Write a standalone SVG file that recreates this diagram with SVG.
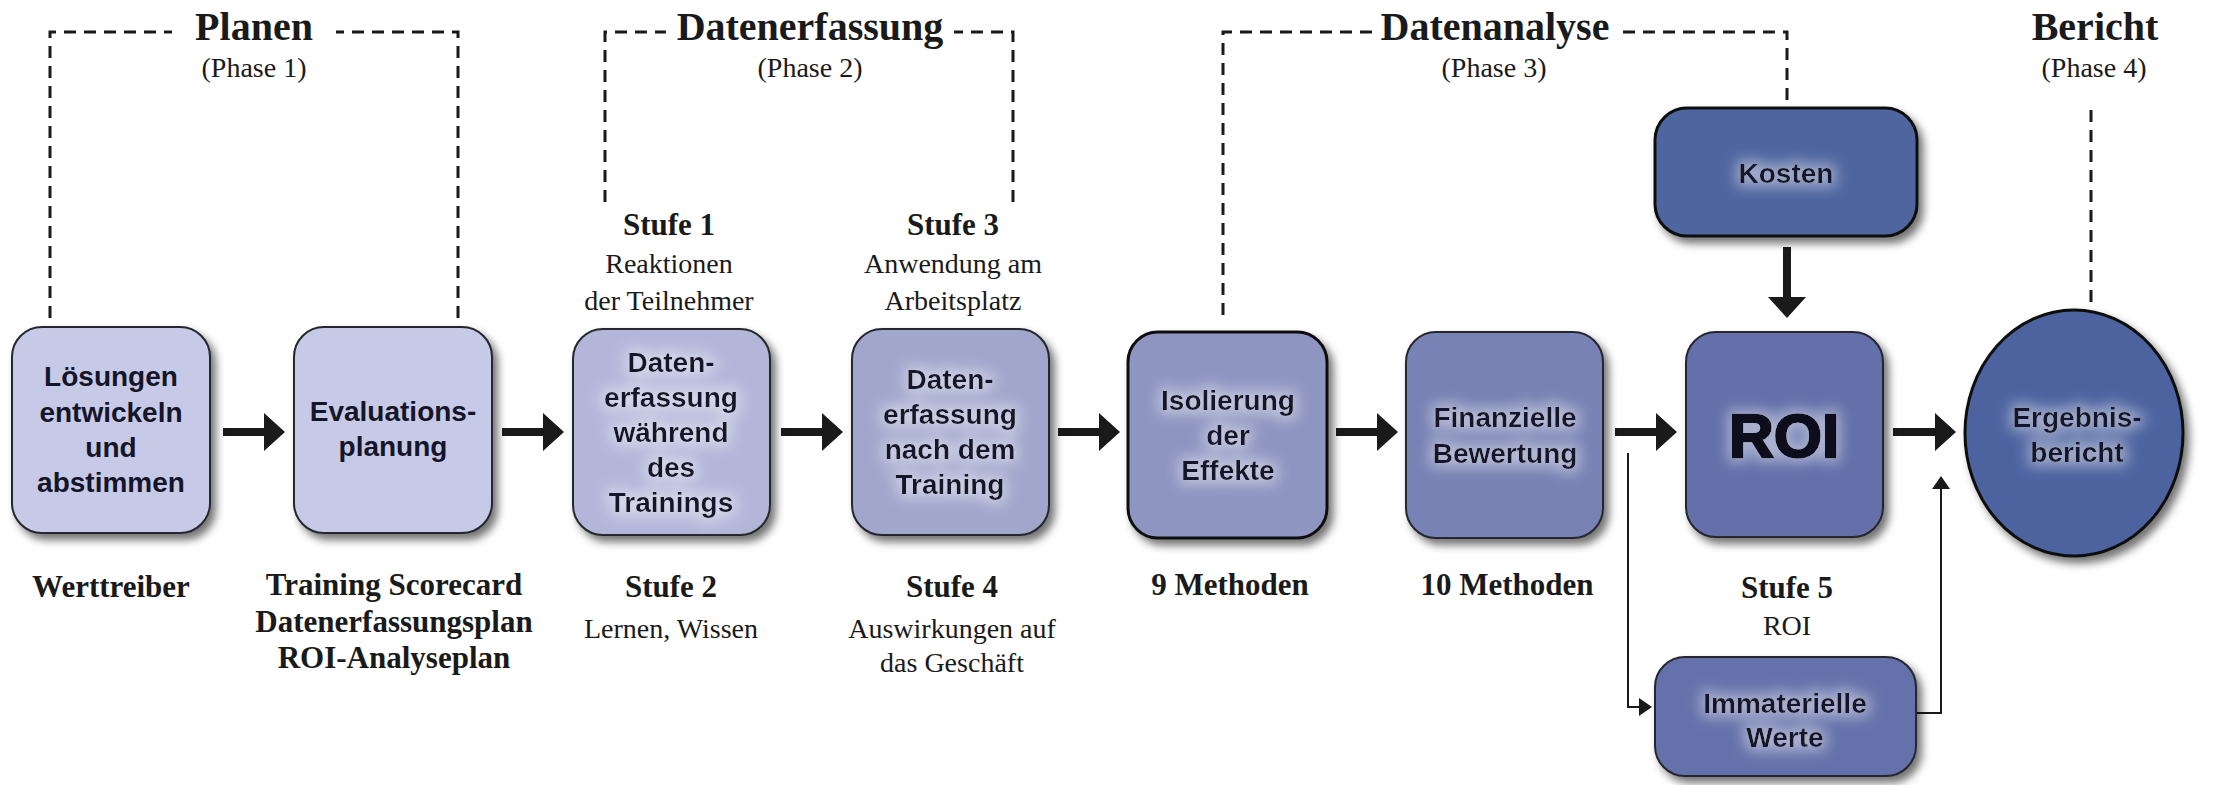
<svg xmlns="http://www.w3.org/2000/svg" width="2223" height="785" viewBox="0 0 2223 785">
<defs>
<filter id="shadow" x="-10%" y="-10%" width="130%" height="130%">
<feDropShadow dx="5" dy="6" stdDeviation="4" flood-color="#000" flood-opacity="0.55"/>
</filter>
<filter id="halo" x="-20%" y="-30%" width="140%" height="160%">
<feMorphology in="SourceAlpha" operator="dilate" radius="4" result="d"/>
<feGaussianBlur in="d" stdDeviation="7" result="b"/>
<feFlood flood-color="#ffffff" flood-opacity="0.45"/>
<feComposite in2="b" operator="in" result="g"/>
<feMerge><feMergeNode in="g"/><feMergeNode in="SourceGraphic"/></feMerge>
</filter>
<marker id="big" viewBox="0 0 21 38" refX="1" refY="19" markerWidth="21" markerHeight="38" markerUnits="userSpaceOnUse" orient="auto">
<path d="M0,0 L21,19 L0,38 Z" fill="#1a1a1a"/>
</marker>
<marker id="small" viewBox="0 0 13 18" refX="1" refY="9" markerWidth="13" markerHeight="18" markerUnits="userSpaceOnUse" orient="auto">
<path d="M0,0 L13,9 L0,18 Z" fill="#1a1a1a"/>
</marker>
<style>
.box{stroke:#25252f;stroke-width:2;filter:url(#shadow)}
.dark{stroke:#111;stroke-width:3}
.bt{font-family:"Liberation Sans",Arial,sans-serif;font-weight:bold;font-size:28px;fill:#15152a;text-anchor:middle}
.glow{filter:url(#halo)}
.title{font-family:"Liberation Serif","Times New Roman",serif;font-weight:bold;font-size:40px;fill:#1a1a1a;text-anchor:middle}
.lb{font-family:"Liberation Serif","Times New Roman",serif;font-weight:bold;font-size:31px;fill:#1a1a1a;text-anchor:middle}
.lr{font-family:"Liberation Serif","Times New Roman",serif;font-size:28px;fill:#1a1a1a;text-anchor:middle}
.dash{fill:none;stroke:#1a1a1a;stroke-width:3;stroke-dasharray:12 8}
.thick{fill:none;stroke:#1a1a1a;stroke-width:8;marker-end:url(#big)}
.thin{fill:none;stroke:#1a1a1a;stroke-width:2;marker-end:url(#small)}
</style>
</defs>

<g id="phases">
<path class="dash" d="M50,318 V32 H172"/>
<path class="dash" d="M458,318 V32 H336"/>
<text class="title" x="254" y="40">Planen</text>
<text class="lr" x="254" y="77">(Phase 1)</text>
<path class="dash" d="M605,202 V32 H666"/>
<path class="dash" d="M1013,202 V32 H954"/>
<text class="title" x="810" y="40">Datenerfassung</text>
<text class="lr" x="810" y="77">(Phase 2)</text>
<path class="dash" d="M1223,315 V32 H1372"/>
<path class="dash" d="M1787,100 V32 H1618"/>
<text class="title" x="1495" y="40">Datenanalyse</text>
<text class="lr" x="1494" y="77">(Phase 3)</text>
<path class="dash" d="M2091,110 V302"/>
<text class="title" x="2095" y="40">Bericht</text>
<text class="lr" x="2094" y="77">(Phase 4)</text>
</g>

<g id="connectors">
<path class="thick" d="M223,432 H265"/>
<path class="thick" d="M502,432 H544"/>
<path class="thick" d="M781,432 H823"/>
<path class="thick" d="M1058,432 H1100"/>
<path class="thick" d="M1336,432 H1378"/>
<path class="thick" d="M1615,432 H1657"/>
<path class="thick" d="M1893,432 H1936"/>
<path class="thick" d="M1787,247 V298"/>
<path class="thin" d="M1628,453 V707 H1640"/>
<path class="thin" d="M1916,713 H1941 V488"/>
</g>

<g id="n1">
<rect class="box" x="12" y="327" width="198" height="206" rx="30" fill="#c7cae6"/>
<text class="bt" x="111" y="386">Lösungen</text>
<text class="bt" x="111" y="422">entwickeln</text>
<text class="bt" x="111" y="457">und</text>
<text class="bt" x="111" y="492">abstimmen</text>
<text class="lb" x="111" y="597">Werttreiber</text>
</g>

<g id="n2">
<rect class="box" x="294" y="327" width="198" height="206" rx="30" fill="#c7cae6"/>
<text class="bt" x="393" y="421">Evaluations-</text>
<text class="bt" x="393" y="456">planung</text>
<text class="lb" x="394" y="595">Training Scorecard</text>
<text class="lb" x="394" y="632">Datenerfassungsplan</text>
<text class="lb" x="394" y="668">ROI-Analyseplan</text>
</g>

<g id="n3">
<text class="lb" x="669" y="235">Stufe 1</text>
<text class="lr" x="669" y="273">Reaktionen</text>
<text class="lr" x="669" y="310">der Teilnehmer</text>
<rect class="box" x="573" y="329" width="197" height="206" rx="30" fill="#b3b6d9"/>
<g class="glow">
<text class="bt" x="671" y="372">Daten-</text>
<text class="bt" x="671" y="407">erfassung</text>
<text class="bt" x="671" y="442">während</text>
<text class="bt" x="671" y="477">des</text>
<text class="bt" x="671" y="512">Trainings</text>
</g>
<text class="lb" x="671" y="597">Stufe 2</text>
<text class="lr" x="671" y="638">Lernen, Wissen</text>
</g>

<g id="n4">
<text class="lb" x="953" y="235">Stufe 3</text>
<text class="lr" x="953" y="273">Anwendung am</text>
<text class="lr" x="953" y="310">Arbeitsplatz</text>
<rect class="box" x="852" y="329" width="197" height="206" rx="30" fill="#a1a6cc"/>
<g class="glow">
<text class="bt" x="950" y="389">Daten-</text>
<text class="bt" x="950" y="424">erfassung</text>
<text class="bt" x="950" y="459">nach dem</text>
<text class="bt" x="950" y="494">Training</text>
</g>
<text class="lb" x="952" y="597">Stufe 4</text>
<text class="lr" x="952" y="638">Auswirkungen auf</text>
<text class="lr" x="952" y="672">das Geschäft</text>
</g>

<g id="n5">
<rect class="box dark" x="1128" y="332" width="199" height="206" rx="30" fill="#8e95c1"/>
<g class="glow">
<text class="bt" x="1228" y="410">Isolierung</text>
<text class="bt" x="1228" y="445">der</text>
<text class="bt" x="1228" y="480">Effekte</text>
</g>
<text class="lb" x="1230" y="595">9 Methoden</text>
</g>

<g id="n6">
<rect class="box" x="1406" y="332" width="197" height="206" rx="30" fill="#7982b4"/>
<g class="glow">
<text class="bt" x="1505" y="427">Finanzielle</text>
<text class="bt" x="1505" y="463">Bewertung</text>
</g>
<text class="lb" x="1507" y="595">10 Methoden</text>
</g>

<g id="n7">
<rect class="box dark" x="1655" y="108" width="262" height="128" rx="32" fill="#4f65a0"/>
<text class="bt glow" x="1786" y="183">Kosten</text>
</g>

<g id="n8">
<rect class="box" x="1686" y="332" width="197" height="205" rx="30" fill="#6470a9"/>
<text class="bt glow" x="1784" y="457" style="font-size:62px;stroke:#0d0d1e;stroke-width:2.5;fill:#0d0d1e">ROI</text>
<text class="lb" x="1787" y="598">Stufe 5</text>
<text class="lr" x="1787" y="635">ROI</text>
</g>

<g id="n9">
<rect class="box" x="1655" y="657" width="261" height="119" rx="30" fill="#6571aa"/>
<g class="glow">
<text class="bt" x="1785" y="713">Immaterielle</text>
<text class="bt" x="1785" y="747">Werte</text>
</g>
</g>

<g id="n10">
<ellipse class="box dark" cx="2074" cy="433" rx="109" ry="123" fill="#4e64a0"/>
<g class="glow">
<text class="bt" x="2077" y="427">Ergebnis-</text>
<text class="bt" x="2077" y="462">bericht</text>
</g>
</g>
</svg>
